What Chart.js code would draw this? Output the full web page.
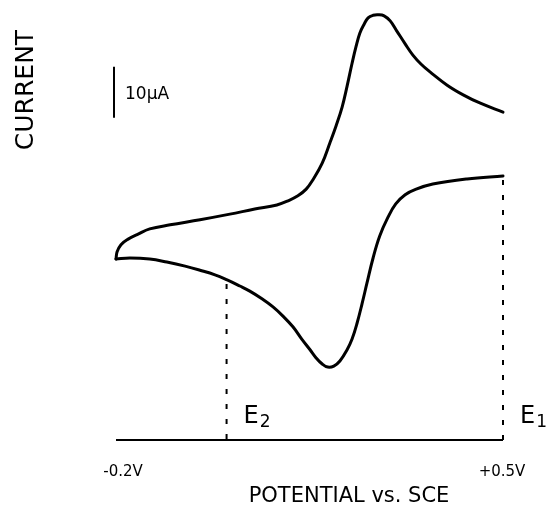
<!DOCTYPE html>
<html>
<head>
<meta charset="utf-8">
<script src="https://cdn.jsdelivr.net/npm/chart.js@4/dist/chart.umd.min.js"></script>
<style>
    body { margin: 0; background: #fff; }
    canvas { display: block; }
</style>
</head>
<body>
<canvas id="cv" width="552" height="505"></canvas>
<script>
// cathodic branch (lower trace): potential in V vs SCE, current in uA
var lowerPotential = [-0.2, -0.175, -0.139, -0.108, -0.075, -0.048, -0.021, 0.001, 0.024, 0.042, 0.064, 0.084, 0.102, 0.120, 0.136, 0.151, 0.162, 0.173, 0.183, 0.194, 0.205,
    0.218, 0.227, 0.236, 0.245, 0.254, 0.265, 0.277, 0.292, 0.306, 0.323, 0.343, 0.373, 0.435, 0.5];
var lowerCurrent = [-0.2, 0.0, -0.2, -0.8, -1.6, -2.4, -3.3, -4.3, -5.5, -6.5, -8.0, -9.6, -11.4, -13.5, -15.9, -18.0, -19.6, -20.8, -21.4, -21.2, -20.2,
    -18.0, -15.9, -12.8, -9.0, -4.9, 0.0, 4.3, 8.0, 10.6, 12.4, 13.5, 14.5, 15.5, 16.1];

// anodic branch (upper trace)
var upperPotential = [-0.2, -0.198, -0.191, -0.178, -0.160, -0.139, -0.102, -0.048, 0.006, 0.051, 0.091, 0.111, 0.129, 0.144, 0.156, 0.173, 0.187, 0.198, 0.209,
    0.218, 0.227, 0.234, 0.241, 0.249, 0.256, 0.265, 0.274, 0.285, 0.296, 0.308, 0.323, 0.337, 0.352, 0.368, 0.399, 0.428, 0.458, 0.5];
var upperCurrent = [-0.2, 1.2, 2.6, 3.7, 4.7, 5.7, 6.5, 7.5, 8.6, 9.6, 10.4, 11.2, 12.2, 13.5, 15.3, 18.6, 22.6, 25.9, 29.6,
    33.7, 38.2, 41.4, 44.1, 45.9, 47.1, 47.6, 47.7, 47.5, 46.5, 44.5, 42.0, 39.8, 38.0, 36.5, 33.9, 32.0, 30.4, 28.6];

var tickValues = [-0.2, 0.5];
var tickLabels = ['-0.2V', '+0.5V'];
var tickNudge = [7, -1];

// switching potentials E2 / E1 and the current where the dashed drop lines start
var switchPotentials = [0.0, 0.5];
var switchCurrents = [-4.3, 16.1];
var switchSubscripts = ['2', '1'];

var scaleBarFrom = 27.5;
var scaleBarSize = 10;
var currentMin = -35.7;
var currentMax = 50.6;

function toPoints(xs, ys) {
    return xs.map(function (v, i) {
        return { x: v, y: ys[i] };
    });
}

function branch(label, xs, ys) {
    return {
        label: label,
        data: toPoints(xs, ys),
        showLine: true,
        borderColor: '#000',
        borderWidth: 3,
        borderCapStyle: 'round',
        borderJoinStyle: 'round',
        tension: 0.4,
        pointRadius: 0,
        fill: false,
        clip: false
    };
}

var decorations = {
    id: 'decorations',
    afterDraw: function (chart) {
        var ctx = chart.ctx;
        var xs = chart.scales.x;
        var ys = chart.scales.y;
        var x0 = xs.getPixelForValue(tickValues[0]);
        var x1 = xs.getPixelForValue(tickValues[1]);
        var yAxis = ys.getPixelForValue(currentMin);

        ctx.save();
        ctx.strokeStyle = '#000';
        ctx.fillStyle = '#000';

        // potential axis
        ctx.lineWidth = 2;
        ctx.beginPath();
        ctx.moveTo(x0, yAxis);
        ctx.lineTo(x1, yAxis);
        ctx.stroke();

        // dashed drop lines at the switching potentials
        ctx.setLineDash([5, 10]);
        switchPotentials.forEach(function (v, i) {
            var px = xs.getPixelForValue(v);
            ctx.beginPath();
            ctx.moveTo(px, ys.getPixelForValue(switchCurrents[i]) + 4);
            ctx.lineTo(px, yAxis);
            ctx.stroke();
        });
        ctx.setLineDash([]);

        // E labels
        switchPotentials.forEach(function (v, i) {
            var px = xs.getPixelForValue(v) + 17;
            ctx.font = '24px "DejaVu Sans"';
            ctx.textAlign = 'left';
            ctx.textBaseline = 'alphabetic';
            ctx.fillText('E', px, yAxis - 17);
            var w = ctx.measureText('E').width;
            ctx.font = '17px "DejaVu Sans"';
            ctx.fillText(switchSubscripts[i], px + w + 1, yAxis - 13);
        });

        // tick labels
        ctx.font = '15px "DejaVu Sans"';
        ctx.textAlign = 'center';
        ctx.textBaseline = 'alphabetic';
        tickValues.forEach(function (v, i) {
            ctx.fillText(tickLabels[i], xs.getPixelForValue(v) + tickNudge[i], yAxis + 36);
        });

        // axis titles
        ctx.font = '21px "DejaVu Sans"';
        ctx.fillText('POTENTIAL vs. SCE', 349, 502);

        ctx.save();
        ctx.translate(33, 90);
        ctx.rotate(-Math.PI / 2);
        ctx.font = '25px "DejaVu Sans"';
        ctx.textAlign = 'center';
        ctx.fillText('CURRENT', 0, 0);
        ctx.restore();

        // 10 uA scale bar
        var bx = x0 - 2;
        ctx.lineWidth = 2;
        ctx.beginPath();
        ctx.moveTo(bx, ys.getPixelForValue(scaleBarFrom));
        ctx.lineTo(bx, ys.getPixelForValue(scaleBarFrom + scaleBarSize));
        ctx.stroke();
        ctx.font = '17px "DejaVu Sans"';
        ctx.textAlign = 'left';
        ctx.textBaseline = 'middle';
        ctx.fillText('10\u00b5A', bx + 11, ys.getPixelForValue(scaleBarFrom + scaleBarSize / 2) + 2);

        ctx.restore();
    }
};

var cvChart = new Chart(document.getElementById('cv'), {
    type: 'scatter',
    data: {
        datasets: [
            branch('Reduction', lowerPotential, lowerCurrent),
            branch('Oxidation', upperPotential, upperCurrent)
        ]
    },
    options: {
        responsive: false,
        animation: false,
        layout: {
            padding: { left: 116, right: 49, top: 0, bottom: 65 }
        },
        plugins: {
            legend: { display: false },
            tooltip: { enabled: false }
        },
        scales: {
            x: { type: 'linear', min: -0.2, max: 0.5, display: false },
            y: { type: 'linear', min: currentMin, max: currentMax, display: false }
        }
    },
    plugins: [decorations]
});
</script>
</body>
</html>
